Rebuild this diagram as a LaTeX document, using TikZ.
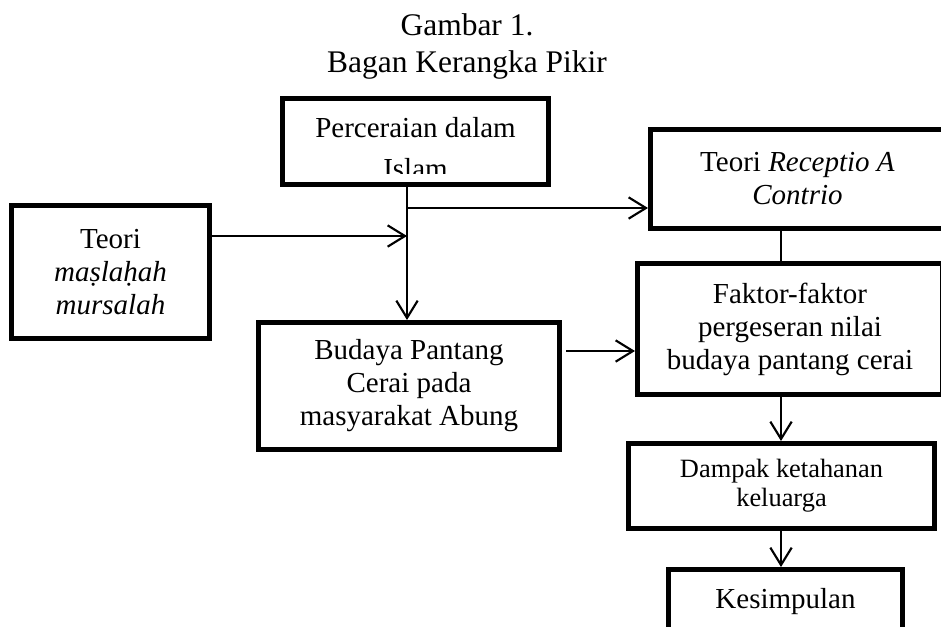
\documentclass[tikz,border=0pt]{standalone}
\usepackage{fontspec}
\setmainfont{Liberation Serif}
\usetikzlibrary{arrows.meta}

\tikzset{
	kotak/.style={draw, line width=3.75pt, inner sep=0pt, align=center, font=\fontsize{21.75}{24.75}\selectfont},
	garis/.style={line width=1.6pt},
	panah/.style={garis, -{Straight Barb[length=13pt,width=16pt]}},
}

\begin{document}
\begin{tikzpicture}[x=0.75pt,y=-0.75pt]
	\def\u{0.75pt}
	\clip (0,0) rectangle (941,626);
	
	\node (judul) [anchor=north, inner sep=0pt, align=center, font=\fontsize{23.6}{27.75}\selectfont] at (467,13) {Gambar 1.\\Bagan Kerangka Pikir};
	
	% kotak-kotak
	\node (perceraian) [kotak, minimum width=266*\u, minimum height=86*\u] at (415.5,141.5) {};
	\begin{scope}
		\clip (280,96) rectangle (551,173);
		\node (perceraianteks) [anchor=north, inner sep=0pt, align=center, font=\fontsize{21.75}{30.75}\selectfont] at (415.5,117) {Perceraian dalam\\Islam};
	\end{scope}
	\node (receptio) [kotak, minimum width=294*\u, minimum height=99*\u] at (797.5,179) {Teori \textit{Receptio A}\\\textit{Contrio}};
	\node (maslahah) [kotak, minimum width=198*\u, minimum height=133*\u] at (110.5,272) {Teori\\\textit{maṣlaḥah}\\\textit{mursalah}};
	\node (budaya) [kotak, minimum width=301*\u, minimum height=127*\u] at (409,386) {Budaya Pantang\\Cerai pada\\masyarakat Abung};
	\node (faktor) [kotak, minimum width=305*\u, minimum height=131*\u] at (790,329) {Faktor-faktor\\pergeseran nilai\\budaya pantang cerai};
	\node (dampak) [kotak, minimum width=306*\u, minimum height=85*\u, font=\fontsize{19.8}{21.75}\selectfont] at (781.5,486) {Dampak ketahanan\\keluarga};
	\node (kesimpulan) [kotak, minimum width=234*\u, minimum height=100*\u, text depth=43*\u] at (785.5,619.5) {Kesimpulan};
	
	% penghubung
	\coordinate (simpang) at (407,208);
	\coordinate (temu) at (407,236);
	\coordinate (jalur) at (600,351);
	\coordinate (poros) at (781,400);
	\draw[panah] (simpang |- perceraian.south) -- (simpang |- budaya.north);
	\draw[panah] (simpang) -- (simpang -| receptio.west);
	\draw[panah] (maslahah.east |- temu) -- (temu);
	\draw[panah] ([xshift=3pt]budaya.east |- jalur) -- (faktor.west |- jalur);
	\draw[garis] (poros |- receptio.south) -- (poros |- faktor.north);
	\draw[panah] (poros |- faktor.south) -- (poros |- dampak.north);
	\draw[panah] (poros |- dampak.south) -- (poros |- kesimpulan.north);
\end{tikzpicture}
\end{document}
